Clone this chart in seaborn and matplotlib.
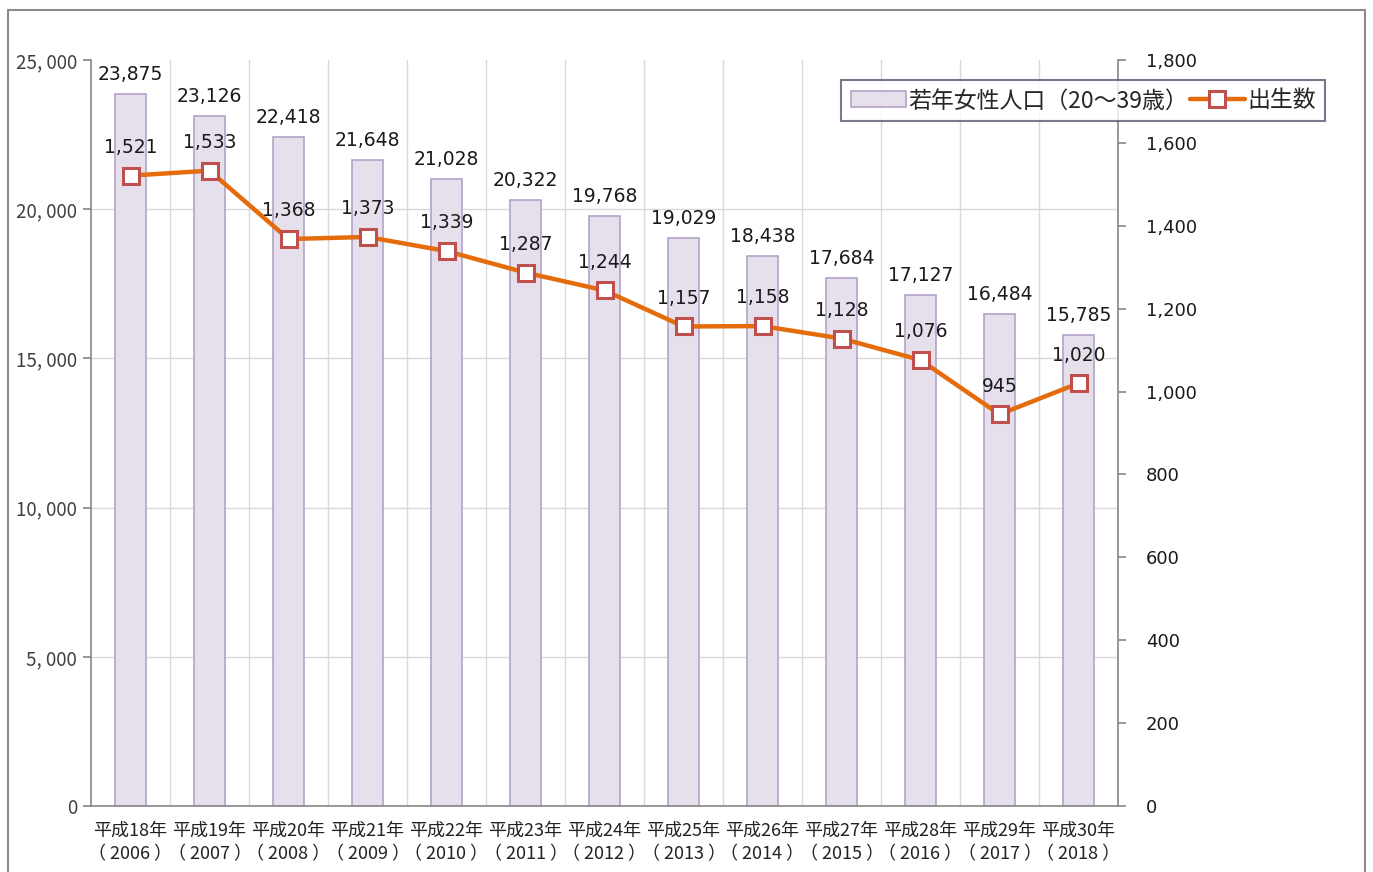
import matplotlib
matplotlib.use("Agg")
import matplotlib.pyplot as plt
import seaborn as sns
import pandas as pd
from matplotlib.patches import Rectangle
from matplotlib.lines import Line2D

# data
years_jp = ["平成18年", "平成19年", "平成20年", "平成21年", "平成22年", "平成23年", "平成24年",
            "平成25年", "平成26年", "平成27年", "平成28年", "平成29年", "平成30年"]
years = ["2006", "2007", "2008", "2009", "2010", "2011", "2012",
         "2013", "2014", "2015", "2016", "2017", "2018"]
population = [23875, 23126, 22418, 21648, 21028, 20322, 19768, 19029, 18438, 17684, 17127, 16484, 15785]
births = [1521, 1533, 1368, 1373, 1339, 1287, 1244, 1157, 1158, 1128, 1076, 945, 1020]
left_ticks = [0, 5000, 10000, 15000, 20000, 25000]
right_ticks = [0, 200, 400, 600, 800, 1000, 1200, 1400, 1600, 1800]

labels = [f"{j}\n（ {y} ）" for j, y in zip(years_jp, years)]
df = pd.DataFrame({"label": labels, "pop": population, "births": births, "pos": range(len(labels))})

sns.set_style("white")
plt.rcParams["font.family"] = ["Noto Sans CJK JP", "DejaVu Sans"]

fig = plt.figure(figsize=(13.73, 8.72), dpi=100)
ax = fig.add_axes([91 / 1373, 66 / 872, (1118 - 91) / 1373, (806 - 60) / 872])

bar_face = "#E6E0EC"
bar_edge = "#B3A2C7"
line_col = "#E46C0A"
mk_edge = "#C0504D"
grid_col = "#D9D9D9"
axis_col = "#868686"

sns.barplot(data=df, x="label", y="pop", ax=ax, color=bar_face, edgecolor=bar_edge,
            linewidth=1.2, width=0.4, saturation=1, zorder=2)
ax.set_xlim(-0.5, 12.5)
ax.set_ylim(0, 25000)
ax.set_xlabel("")
ax.set_ylabel("")

# grid
for v in left_ticks[1:-1]:
    ax.axhline(v, color=grid_col, lw=1, zorder=0)
bounds = [i + 0.5 for i in range(-1, 13)]
for b in bounds[1:]:
    ax.axvline(b, color=grid_col, lw=1, zorder=0)

ax.set_yticks(left_ticks)
ax.set_yticklabels([f"{v // 1000}, {v % 1000:03d}" if v else "0" for v in left_ticks],
                   fontsize=13.5, color="#404040")
ax.set_xticks(range(13))
ax.set_xticklabels(labels, fontsize=13, color="#222222", linespacing=1.45)
ax.set_xticks(bounds, minor=True)
ax.tick_params(axis="x", which="major", length=0, pad=11)
ax.tick_params(axis="x", which="minor", length=6, color=axis_col, width=1.2)
ax.tick_params(axis="y", length=6, color=axis_col, width=1.2, left=True, pad=4)
for s in ["top", "right"]:
    ax.spines[s].set_visible(False)
for s in ["left", "bottom"]:
    ax.spines[s].set_color(axis_col)
    ax.spines[s].set_linewidth(1.2)

for i, v in enumerate(population):
    ax.text(i, v + 330, f"{v:,}", ha="center", va="bottom", fontsize=13.5,
            family="DejaVu Sans", color="#1a1a1a")

ax2 = ax.twinx()
sns.lineplot(data=df, x="pos", y="births", ax=ax2, color=line_col, linewidth=3.2,
             marker="s", markersize=11, markerfacecolor="white", markeredgecolor=mk_edge,
             markeredgewidth=2.2, zorder=3)
ax2.set_ylim(0, 1800)
ax2.set_xlim(-0.5, 12.5)
ax2.set_xlabel("")
ax2.set_ylabel("")
ax2.set_yticks(right_ticks)
ax2.set_yticklabels([f"{v:,}" for v in right_ticks], fontsize=13, family="DejaVu Sans", color="#1a1a1a")
ax2.tick_params(axis="y", length=6, color=axis_col, width=1.2, right=True, pad=14)
for s in ["top", "left", "bottom"]:
    ax2.spines[s].set_visible(False)
ax2.spines["right"].set_color(axis_col)
ax2.spines["right"].set_linewidth(1.2)

for i, v in enumerate(births):
    ax2.text(i, v + 45, f"{v:,}", ha="center", va="bottom", fontsize=13.5,
             family="DejaVu Sans", color="#1a1a1a")

# legend
handles = [Rectangle((0, 0), 1, 1, facecolor=bar_face, edgecolor=bar_edge, lw=1.2),
           Line2D([0], [0], color=line_col, lw=3.2, marker="s", markersize=11,
                  markerfacecolor="white", markeredgecolor=mk_edge, markeredgewidth=2.2)]
leg = ax2.legend(handles, ["若年女性人口（20～39歳）", "出生数"], loc="upper right",
                 bbox_to_anchor=(1.2016, 0.973), borderaxespad=0, ncol=2, fontsize=16.5,
                 frameon=True, fancybox=False, borderpad=0.4, handlelength=2.4,
                 handletextpad=0.1, columnspacing=0.1)
leg.get_frame().set_edgecolor("#5F5470")
leg.get_frame().set_linewidth(1.5)

# outer frame
fig.patches.append(Rectangle((8 / 1373, -0.01), (1365 - 8) / 1373, 1 - 10 / 872 + 0.01,
                             transform=fig.transFigure, fill=False, edgecolor="#8C8C8C", lw=1.5))

fig.savefig("out.png", dpi=100)
